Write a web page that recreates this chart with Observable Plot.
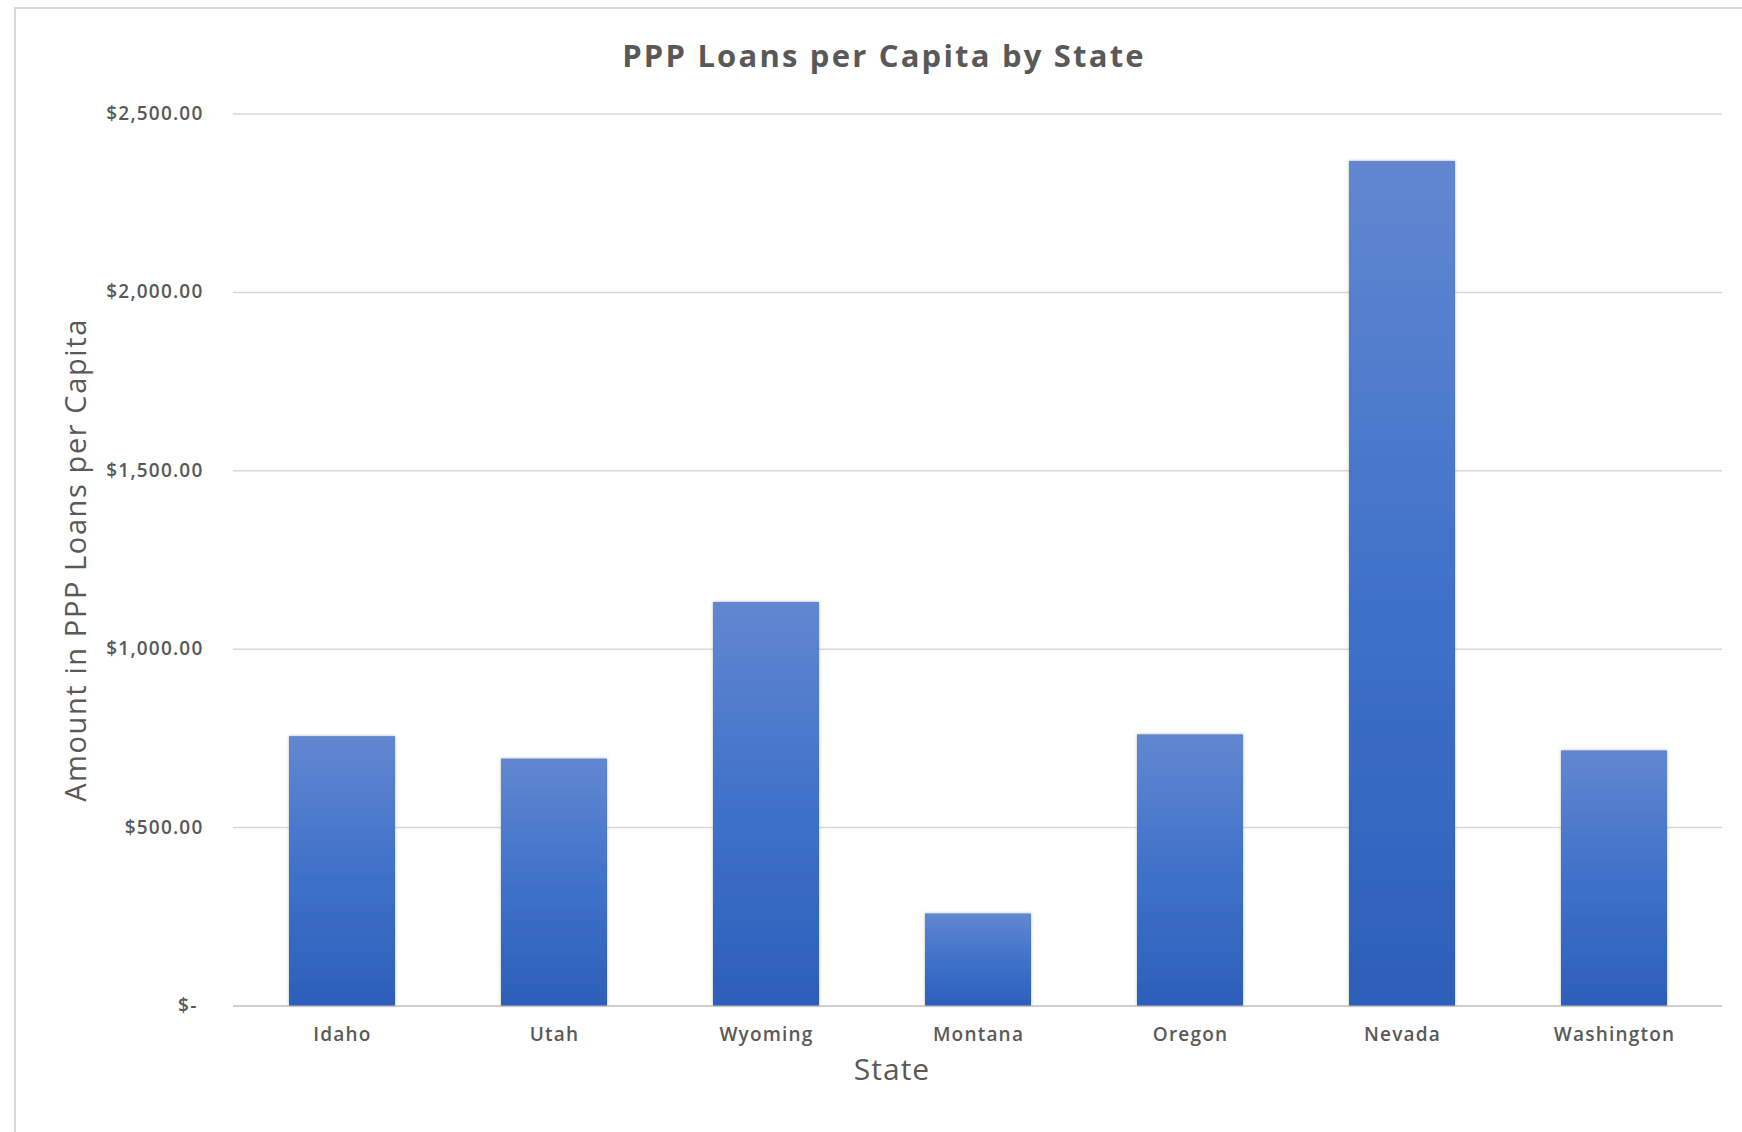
<!DOCTYPE html>
<html><head><meta charset="utf-8">
<script src="https://cdn.jsdelivr.net/npm/d3@7"></script>
<script src="https://cdn.jsdelivr.net/npm/@observablehq/plot@0.6"></script>
<style>
html,body{margin:0;padding:0;background:#fff;}
#wrap{position:relative;width:1742px;height:1132px;overflow:hidden;background:#fff;}
#frame{position:absolute;left:14px;top:7px;width:1800px;height:1200px;border-left:2px solid #d9d9d9;border-top:2px solid #d9d9d9;}
#chart{position:absolute;left:0;top:0;}
</style></head><body>
<div id="wrap"><div id="frame"></div><div id="chart"></div></div>
<script>
const states = ["Idaho","Utah","Wyoming","Montana","Oregon","Nevada","Washington"];
const amounts = [755, 692, 1131, 258, 760, 2367, 715];
const yTicks = [500, 1000, 1500, 2000, 2500];
const title = "PPP Loans per Capita by State";
const xLabel = "State";
const yLabel = "Amount in PPP Loans per Capita";

const data = states.map((s, i) => ({state: s, amount: amounts[i]}));
const fmt = d3.format(",.2f");
const grey = "#595959";

const chart = Plot.plot({
  width: 1742, height: 1132,
  marginLeft: 233, marginRight: 20, marginTop: 113.5, marginBottom: 126.5,
  style: {fontFamily: "'Open Sans', sans-serif", background: "transparent", color: grey, overflow: "visible"},
  x: {domain: states, paddingInner: 0.5, paddingOuter: 0.25, label: null},
  y: {domain: [0, 2500], label: null},
  marks: [
    Plot.gridY(yTicks, {stroke: "#d9d9d9", strokeOpacity: 1, strokeWidth: 1.5}),
    Plot.ruleY([0], {stroke: "#d0d0d0", strokeWidth: 2}),
    Plot.barY(data, {x: "state", y: "amount", fill: "url(#barGrad)"}),
    Plot.axisY(yTicks, {tickSize: 0, tickPadding: 30, tickFormat: d => "$" + fmt(d), fontSize: 19, fontWeight: 600, color: grey, label: null}),
    Plot.axisY([0], {tickSize: 0, tickPadding: 36, tickFormat: () => "$-", fontSize: 19, fontWeight: 600, color: grey, label: null}),
    Plot.axisX({tickSize: 0, tickPadding: 21, fontSize: 19, fontWeight: 600, color: grey, label: null}),
    Plot.text([title], {text: d => d, frameAnchor: "top", lineAnchor: "middle", dx: -94, dy: -57, fontSize: 31, fontWeight: 700, fill: grey}),
    Plot.text([xLabel], {text: d => d, frameAnchor: "bottom", lineAnchor: "middle", textAnchor: "middle", dx: -86, dy: 64, fontSize: 30, fill: grey}),
    Plot.text([yLabel], {text: d => d, frameAnchor: "left", lineAnchor: "middle", textAnchor: "middle", dx: -157, rotate: -90, fontSize: 29, fill: grey})
  ]
});

const svg = d3.select(chart);
const defs = svg.insert("defs", ":first-child");
const grad = defs.append("linearGradient").attr("id", "barGrad")
  .attr("x1", 0).attr("y1", 0).attr("x2", 0).attr("y2", 1);
grad.append("stop").attr("offset", "0%").attr("stop-color", "#6287d0");
grad.append("stop").attr("offset", "50%").attr("stop-color", "#3f72c9");
grad.append("stop").attr("offset", "100%").attr("stop-color", "#2c5fba");
const filt = defs.append("filter").attr("id", "barShadow")
  .attr("x", "-10%").attr("y", "-5%").attr("width", "120%").attr("height", "110%");
filt.append("feDropShadow").attr("dx", 0).attr("dy", 0).attr("stdDeviation", 1.5)
  .attr("flood-color", "#808080").attr("flood-opacity", 0.6);
svg.selectAll("g[aria-label='bar']").attr("filter", "url(#barShadow)");

svg.selectAll("g[aria-label$='tick label'] text").style("letter-spacing", "1.2px");
const textGroups = svg.selectAll("g[aria-label='text']").nodes();
const spacings = ["2.2px", "1px", "1.6px"];
textGroups.forEach((g, i) => d3.select(g).selectAll("text").style("letter-spacing", spacings[i] || "0px"));

document.getElementById("chart").appendChild(chart);
</script>
</body></html>
